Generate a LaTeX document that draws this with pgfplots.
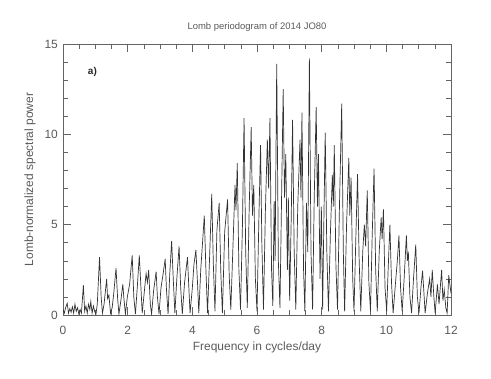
\documentclass[border=0pt]{standalone}
\usepackage{fontspec}
\setmainfont{Liberation Sans}
\usepackage{pgfplots}
\pgfplotsset{compat=1.18}
\definecolor{txtgray}{RGB}{90,90,90}
\definecolor{framegray}{RGB}{100,100,100}

\begin{document}
\begin{tikzpicture}
	% fix the page to the reference's 491 x 379 frame
	\path (-63bp,-64bp) rectangle (428bp,315bp);
	\begin{axis}[
		scale only axis,
		width=388bp,
		height=271bp,
		xmin=0, xmax=12,
		ymin=0, ymax=15,
		xtick={0,2,...,12},
		ytick={0,5,10,15},
		minor x tick num=3,
		minor y tick num=4,
		tick align=inside,
		major tick length=8bp,
		minor tick length=5bp,
		axis line style={framegray, line width=0.6pt},
		every tick/.style={framegray, line width=0.6pt},
		/pgf/number format/assume math mode=true,
		font=\fontsize{12}{14}\selectfont\color{txtgray},
		xticklabel style={anchor=center, yshift=-15bp},
		yticklabel style={anchor=east, inner sep=0pt, xshift=-5bp},
		xlabel={Frequency in cycles/day},
		ylabel={Lomb-normalized spectral power},
		xlabel style={at={(axis description cs:0.5,-0.118)}, anchor=center},
		ylabel style={at={(axis description cs:-0.085,0.5)}, anchor=center},
		title={Lomb periodogram of 2014 JO80},
		title style={at={(axis description cs:0.5,1.04)}, anchor=center, font=\fontsize{9.5}{11}\selectfont\color{txtgray}},
	]
		\addplot[black!80, line width=0.7pt, mark=none] coordinates {
			(0.00,0.3) (0.04,0.1) (0.08,0.4) (0.13,0.65) (0.17,0.1) (0.21,0.35)
			(0.25,0.15) (0.29,0.45) (0.33,0.1) (0.37,0.6) (0.41,0.2) (0.45,0.4)
			(0.49,0.05) (0.53,0.3) (0.57,0.1) (0.63,1.65) (0.67,0.2) (0.71,0.5)
			(0.75,0.1) (0.79,0.6) (0.83,0.3) (0.86,0.75) (0.90,0.1) (0.94,0.5)
			(0.98,0.2) (1.02,0.05) (1.06,0.6) (1.13,3.2) (1.18,1.0) (1.22,0.1)
			(1.27,0.6) (1.35,2.0) (1.38,0.9) (1.42,1.1) (1.47,0.1) (1.52,0.4)
			(1.57,1.2) (1.64,2.6) (1.69,0.9) (1.73,0.05) (1.79,0.8) (1.85,1.7)
			(1.88,1.0) (1.93,0.05) (1.99,1.0) (2.06,1.7) (2.14,3.3) (2.19,1.0)
			(2.24,0.05) (2.30,1.6) (2.36,3.3) (2.40,1.9) (2.45,0.1) (2.51,1.2)
			(2.57,2.3) (2.61,1.8) (2.65,2.5) (2.70,0.6) (2.74,0.05) (2.80,1.3)
			(2.88,2.4) (2.92,1.0) (2.97,0.05) (3.03,1.5) (3.09,2.2) (3.16,3.1)
			(3.20,1.4) (3.25,0.05) (3.30,2.2) (3.36,4.1) (3.41,2.0) (3.46,0.1)
			(3.52,2.0) (3.59,3.8) (3.64,1.5) (3.69,0.05) (3.76,1.8) (3.85,3.2)
			(3.89,1.6) (3.93,0.1) (4.00,1.5) (4.05,2.8) (4.11,3.6) (4.16,1.8)
			(4.20,0.1) (4.26,2.5) (4.33,4.4) (4.37,5.5) (4.42,2.5) (4.47,0.1)
			(4.53,3.0) (4.60,6.7) (4.65,2.8) (4.70,0.2) (4.76,4.7) (4.83,6.2)
			(4.88,2.4) (4.93,0.1) (5.00,4.6) (5.09,6.4) (5.14,2.2) (5.19,0.3)
			(5.26,4.0) (5.32,7.2) (5.35,5.8) (5.39,8.4) (5.44,2.5) (5.49,0.3)
			(5.55,5.0) (5.60,10.9) (5.65,3.5) (5.70,0.4) (5.76,6.0) (5.82,10.4)
			(5.86,5.5) (5.90,7.2) (5.95,2.0) (6.00,0.2) (6.06,5.5) (6.11,9.4)
			(6.15,4.0) (6.20,0.3) (6.26,5.8) (6.32,9.7) (6.36,7.0) (6.40,10.9)
			(6.45,2.5) (6.49,0.5) (6.53,6.3) (6.56,3.0) (6.61,13.9) (6.66,3.0)
			(6.71,0.4) (6.76,6.5) (6.81,12.5) (6.85,6.5) (6.89,8.9) (6.94,2.5)
			(6.97,6.5) (7.01,0.8) (7.06,5.5) (7.10,10.8) (7.15,3.5) (7.20,0.3)
			(7.26,6.0) (7.33,9.7) (7.36,6.5) (7.39,11.2) (7.44,2.5) (7.48,0.2)
			(7.53,6.2) (7.57,3.5) (7.62,14.2) (7.67,3.5) (7.72,0.3) (7.77,6.5)
			(7.83,11.5) (7.87,6.0) (7.90,8.9) (7.95,2.0) (7.99,6.0) (8.03,0.3)
			(8.07,5.5) (8.11,10.1) (8.16,3.5) (8.21,0.2) (8.27,4.5) (8.33,7.75)
			(8.36,6.0) (8.39,9.4) (8.44,2.8) (8.49,0.3) (8.55,6.0) (8.62,11.7)
			(8.67,3.5) (8.71,0.2) (8.77,5.0) (8.84,8.7) (8.87,5.5) (8.91,7.6)
			(8.96,2.0) (9.00,0.2) (9.06,4.5) (9.11,7.8) (9.16,3.0) (9.21,0.2)
			(9.27,3.5) (9.32,5.0) (9.36,3.8) (9.41,6.9) (9.46,1.8) (9.51,0.2)
			(9.56,4.2) (9.62,8.1) (9.67,2.5) (9.72,0.2) (9.78,3.5) (9.84,5.4)
			(9.87,4.2) (9.91,5.85) (9.96,1.5) (10.01,0.2) (10.06,2.7) (10.11,5.0)
			(10.16,1.8) (10.21,0.1) (10.28,1.7) (10.34,3.0) (10.39,4.4) (10.44,1.5)
			(10.49,0.2) (10.55,2.0) (10.62,4.4) (10.65,3.0) (10.68,3.5) (10.73,1.0)
			(10.78,0.1) (10.84,2.0) (10.91,3.9) (10.96,1.0) (11.01,0.1) (11.07,1.5)
			(11.12,2.45) (11.16,1.3) (11.20,0.1) (11.27,1.2) (11.34,2.0) (11.38,1.0)
			(11.42,2.5) (11.47,1.0) (11.51,0.1) (11.58,1.7) (11.63,0.6) (11.71,2.5)
			(11.75,0.8) (11.79,1.4) (11.84,0.4) (11.88,0.1) (11.93,2.2) (12.00,1.2)
		};
		\node[font=\fontsize{10}{12}\selectfont\bfseries\color{black!85}] at (axis cs:0.91,13.46) {a)};
	\end{axis}
\end{tikzpicture}
\end{document}
